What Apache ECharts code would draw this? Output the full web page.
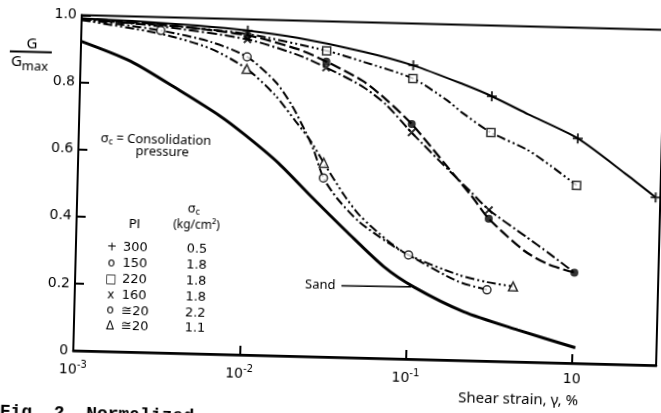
<!DOCTYPE html>
<html>
<head>
<meta charset="utf-8">
<script src="https://cdn.jsdelivr.net/npm/echarts@6/dist/echarts.min.js"></script>
<style>
  html, body { margin: 0; padding: 0; background: #fff; overflow: hidden; width: 661px; height: 413px; }
  /* the printed figure sits slightly turned on the page */
  #chart { position: absolute; left: -20px; top: -25px; width: 701px; height: 463px;
           transform: rotate(1.45deg); transform-origin: 50% 50%; }
</style>
</head>
<body>
<div id="chart"></div>
<script>
// ---- data: shear strain (%) vs G/Gmax ----
const pi300Line = [[0.001,0.99],[0.002,0.986],[0.005,0.977],[0.01,0.966],[0.02,0.948],[0.05,0.912],[0.1,0.875],[0.2,0.823],[0.3,0.789],[0.5,0.738],[1,0.67],[2,0.565],[3,0.50]];
const pi300Marks = [[0.01,0.966],[0.1,0.875],[0.3,0.789],[1,0.67],[3,0.50]];

const pi150Line = [[0.001,0.99],[0.003,0.978],[0.01,0.952],[0.02,0.915],[0.03,0.88],[0.05,0.825],[0.07,0.77],[0.1,0.70],[0.17,0.57],[0.235,0.49],[0.3,0.424],[0.5,0.33],[0.7,0.292],[1,0.27]];
const pi150Marks = [[0.01,0.952],[0.03,0.88],[0.1,0.70],[0.3,0.424],[1,0.27]];

const pi220Line = [[0.001,0.986],[0.003,0.976],[0.01,0.956],[0.03,0.912],[0.05,0.882],[0.1,0.836],[0.16,0.775],[0.2,0.738],[0.3,0.681],[0.5,0.632],[0.7,0.585],[1,0.53]];
const pi220Marks = [[0.03,0.912],[0.1,0.836],[0.3,0.681],[1,0.53]];

const pi160Line = [[0.001,0.988],[0.003,0.972],[0.01,0.94],[0.02,0.898],[0.03,0.862],[0.05,0.808],[0.07,0.755],[0.1,0.675],[0.17,0.565],[0.235,0.5],[0.3,0.45],[0.5,0.375],[0.7,0.325],[1,0.27]];
const pi160Marks = [[0.01,0.94],[0.03,0.862],[0.1,0.675],[0.3,0.45]];

const low22Line = [[0.001,0.988],[0.003,0.96],[0.006,0.93],[0.01,0.888],[0.015,0.815],[0.019,0.745],[0.023,0.67],[0.026,0.615],[0.03,0.533],[0.037,0.47],[0.05,0.405],[0.075,0.345],[0.1,0.31],[0.2,0.235],[0.3,0.212]];
const low22Marks = [[0.003,0.96],[0.01,0.888],[0.03,0.533],[0.1,0.31],[0.3,0.212]];

const low11Line = [[0.001,0.985],[0.003,0.95],[0.006,0.91],[0.01,0.852],[0.015,0.775],[0.02,0.70],[0.025,0.64],[0.03,0.578],[0.04,0.485],[0.05,0.425],[0.075,0.35],[0.1,0.31],[0.2,0.255],[0.3,0.235],[0.43,0.224]];
const low11Marks = [[0.01,0.852],[0.03,0.578],[0.43,0.224]];

const sandLine = [[0.001,0.922],[0.002,0.866],[0.004,0.782],[0.007,0.71],[0.01,0.655],[0.016,0.574],[0.0256,0.476],[0.043,0.371],[0.0715,0.273],[0.109,0.215],[0.219,0.145],[0.465,0.095],[1.04,0.046]];
const sandPointer = [[0.04,0.213],[0.105,0.215]];

// ---- tick labels and key table ----
const xTickBase = '10';
const xTickExp = ['-3', '-2', '-1', ''];
const yTickLabels = ['0', '0.2', '0.4', '0.6', '0.8', '1.0'];
const keySymbols = ['+', 'o', '\u25A1', 'x', 'o', '\u0394'];
const keyPI = ['300', '150', '220', '160', '\u224520', '\u224520'];
const keySigma = ['0.5', '1.8', '1.8', '1.8', '2.2', '1.1'];

const NUM = '"DejaVu Sans", sans-serif';
const TXT = '"Noto Sans", "DejaVu Sans", sans-serif';
const INK = '#000';

function curve(name, data, dash, width) {
  return {
    name, type: 'line', data, showSymbol: false, smooth: 0.25,
    lineStyle: { color: INK, width, type: dash }, z: 2, silent: true
  };
}
const PLUS = 'path://M-1,-5H1V-1H5V1H1V5H-1V1H-5V-1H-1Z';
function marks(name, data, symbol, size, filled, rotate) {
  return {
    name, type: 'scatter', data, symbol, symbolSize: size, symbolRotate: rotate || 0,
    itemStyle: { color: filled ? INK : '#fff', borderColor: INK, borderWidth: filled ? 0 : 1.5 },
    z: 5, silent: true
  };
}

const series = [
  curve('PI 300', pi300Line, 'solid', 2),
  curve('PI 150', pi150Line, [11, 4], 2.2),
  curve('PI 220', pi220Line, [9, 3, 2, 3, 2, 3], 2),
  curve('PI 160', pi160Line, [10, 3, 2, 3], 2),
  curve('PI 20 (2.2)', low22Line, [9, 3, 2, 3], 2),
  curve('PI 20 (1.1)', low11Line, [9, 3, 2, 3, 2, 3], 2),
  curve('Sand', sandLine, 'solid', 3),
  {
    name: 'Sand pointer', type: 'line', silent: true, symbol: 'circle', symbolSize: 0, showSymbol: true,
    lineStyle: { color: INK, width: 1.5 },
    data: [
      { value: sandPointer[0], label: { show: true, position: 'left', distance: 6, formatter: 'Sand',
        fontFamily: TXT, fontSize: 13, color: INK } },
      sandPointer[1]
    ]
  },
  marks('PI 300', pi300Marks, PLUS, 10, true),
  marks('PI 150', pi150Marks, 'circle', 8, true),
  marks('PI 220', pi220Marks, 'rect', 8, false),
  marks('PI 160', pi160Marks, PLUS, 10, true, 45),
  marks('PI 20 (2.2)', low22Marks, 'circle', 8, false),
  marks('PI 20 (1.1)', low11Marks, 'triangle', 9, false)
];

// key table beside the curves
const sub = { fontSize: 9, fontFamily: TXT, padding: [7, 0, 0, 0] };
const graphics = [
  { type: 'text', x: 119, y: 169, style: { text: '\u03C3{s|c} = Consolidation', fill: INK, fontSize: 13, fontFamily: TXT,
      align: 'left', verticalAlign: 'middle', rich: { s: sub } } },
  { type: 'text', x: 181, y: 181, style: { text: 'pressure', fill: INK, fontSize: 13, fontFamily: TXT,
      align: 'center', verticalAlign: 'middle' } },
  { type: 'text', x: 155, y: 255, style: { text: 'PI', fill: INK, fontSize: 13, fontFamily: NUM,
      align: 'center', verticalAlign: 'middle' } },
  { type: 'text', x: 214, y: 237, style: { text: '\u03C3{s|c}', fill: INK, fontSize: 13, fontFamily: TXT,
      align: 'center', verticalAlign: 'middle', rich: { s: sub } } },
  { type: 'text', x: 217, y: 254, style: { text: '(kg/cm\u00B2)', fill: INK, fontSize: 12, fontFamily: TXT,
      align: 'center', verticalAlign: 'middle' } },
  // G / Gmax axis title
  { type: 'text', x: 48, y: 77, style: { text: 'G', fill: INK, fontSize: 15, fontFamily: TXT,
      align: 'center', verticalAlign: 'middle' } },
  { type: 'line', shape: { x1: 26, y1: 84.5, x2: 68, y2: 84.5 }, style: { stroke: INK, lineWidth: 2 } },
  { type: 'text', x: 46, y: 95, style: { text: 'G{s|max}', fill: INK, fontSize: 15, fontFamily: TXT,
      align: 'center', verticalAlign: 'middle', rich: { s: { fontSize: 13, fontFamily: TXT, padding: [8, 0, 0, 0] } } } },
  // x axis title
  { type: 'text', x: 543, y: 420, style: { text: 'Shear strain, \u03B3, %', fill: INK, fontSize: 15, fontFamily: TXT,
      align: 'center', verticalAlign: 'middle' } },
  // figure caption
  { type: 'text', x: 25, y: 436, style: { text: 'Fig. 2  Normalized', fill: INK, fontSize: 18,
      fontFamily: '"Liberation Mono", "DejaVu Sans Mono", monospace', fontWeight: 'bold',
      align: 'left', verticalAlign: 'top' } }
];
keySymbols.forEach((s, i) => {
  const y = 278 + 15.8 * i;
  graphics.push({ type: 'text', x: 133, y, style: { text: s, fill: INK, fontSize: 12, fontFamily: NUM, align: 'center', verticalAlign: 'middle' } });
  graphics.push({ type: 'text', x: 144, y, style: { text: keyPI[i], fill: INK, fontSize: 13, fontFamily: NUM, align: 'left', verticalAlign: 'middle' } });
  graphics.push({ type: 'text', x: 218, y, style: { text: keySigma[i], fill: INK, fontSize: 13, fontFamily: NUM, align: 'center', verticalAlign: 'middle' } });
});

const chart = echarts.init(document.getElementById('chart'), null, { renderer: 'canvas' });
chart.setOption({
  animation: false,
  backgroundColor: '#fff',
  grid: { left: 97, top: 46.4, width: 583, height: 335.6, show: true, borderColor: INK, borderWidth: 2,
          backgroundColor: 'transparent' },
  xAxis: {
    type: 'log', logBase: 10, min: 0.001, max: 3.2,
    axisLine: { show: true, lineStyle: { color: INK, width: 2.5 } },
    axisTick: { show: true, inside: true, length: 9, lineStyle: { color: INK, width: 2 } },
    minorTick: { show: false }, splitLine: { show: false },
    axisLabel: {
      margin: 9, color: INK, fontFamily: NUM, fontSize: 14, showMaxLabel: false,
      formatter: v => {
        const e = Math.round(Math.log10(v));
        if (e > 0) return '';
        const sup = xTickExp[e + 3];
        return sup ? '{b|' + xTickBase + '}{s|' + sup + '}' : '{b|' + xTickBase + '}';
      },
      rich: {
        b: { fontSize: 14, fontFamily: NUM, color: INK },
        s: { fontSize: 10, fontFamily: NUM, color: INK, padding: [0, 0, 10, 0] }
      }
    }
  },
  yAxis: {
    type: 'value', min: 0, max: 1, interval: 0.2,
    axisLine: { show: true, lineStyle: { color: INK, width: 2 } },
    axisTick: { show: true, inside: true, length: 9, lineStyle: { color: INK, width: 2 } },
    splitLine: { show: false },
    axisLabel: { margin: 5, color: INK, fontFamily: NUM, fontSize: 14,
      formatter: v => yTickLabels[Math.round(v / 0.2)] }
  },
  graphic: graphics,
  series
});
</script>
</body>
</html>
